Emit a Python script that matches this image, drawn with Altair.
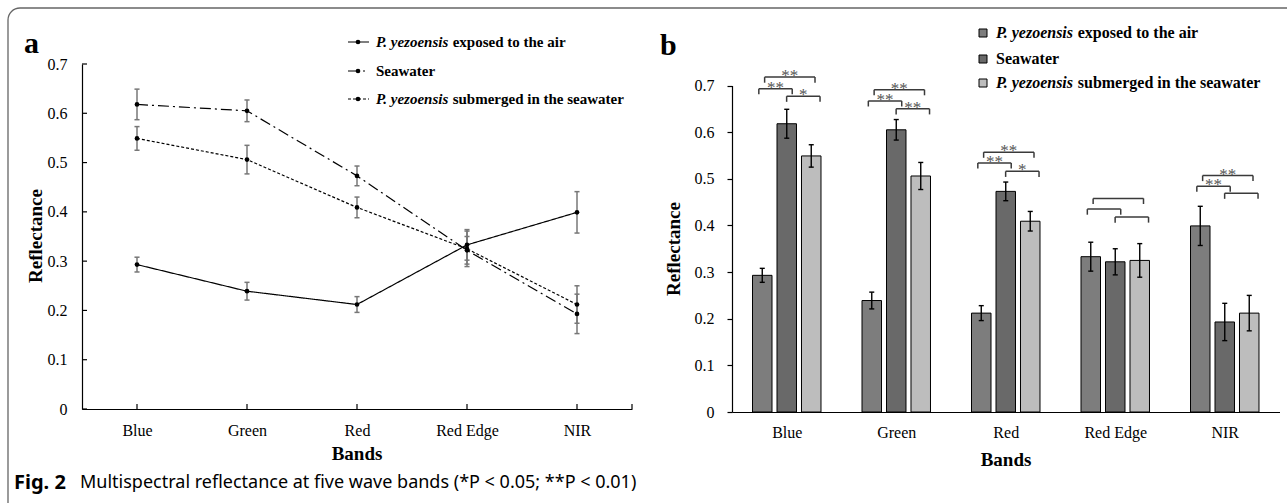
import altair as alt
import pandas as pd

# ---------------- data ----------------
bands = ["Blue", "Green", "Red", "Red Edge", "NIR"]
series = ["air", "sea", "sub"]
air = [0.293, 0.239, 0.212, 0.333, 0.399]
air_err = [0.015, 0.018, 0.016, 0.031, 0.042]
sea = [0.618, 0.605, 0.473, 0.322, 0.193]
sea_err = [0.031, 0.022, 0.020, 0.028, 0.040]
sub = [0.549, 0.506, 0.409, 0.325, 0.212]
sub_err = [0.024, 0.029, 0.021, 0.036, 0.038]
y_ticks = [0, 0.1, 0.2, 0.3, 0.4, 0.5, 0.6, 0.7]

# significance brackets (panel b): heights and labels per band
top_y = [0.718, 0.691, 0.557, 0.458, 0.507]     # air vs submerged
left_y = [0.693, 0.667, 0.534, 0.435, 0.484]    # air vs seawater
right_y = [0.677, 0.650, 0.516, 0.418, 0.469]   # seawater vs submerged
top_lab = ["**", "**", "**", "", "**"]
left_lab = ["**", "**", "**", "", "**"]
right_lab = ["*", "**", "*", "", ""]

W, H = 1287, 503
SERIF = "Liberation Serif"
SANS = "Noto Sans"

rows = []
for s, vals, errs in zip(series, [air, sea, sub], [air_err, sea_err, sub_err]):
    for i, (v, e) in enumerate(zip(vals, errs)):
        rows.append(dict(series=s, band=bands[i], pos=i + 0.5, v=v, lo=v - e, hi=v + e, zero=0.0))
df = pd.DataFrame(rows)

label_expr = "[" + ",".join("'%s'" % b for b in bands) + "][floor(datum.value)]"
ylab_expr = "datum.value == 0 ? '0' : format(datum.value, '.1f')"

layers = []

# ---------------- panel a (lines) ----------------
xa = alt.Scale(domain=[0, 5], range=[82, 632], nice=False, zero=False)
ya = alt.Scale(domain=[0, 0.7], range=[409, 64], nice=False, zero=False)
CAP_A = 0.023
dfa = df.copy()
dfa["cl"] = dfa.pos - CAP_A
dfa["cr"] = dfa.pos + CAP_A

xa_axis = alt.Axis(orient="bottom", offset=409 - H, values=[i + 0.5 for i in range(5)],
                   labelExpr=label_expr, ticks=False, tickSize=0, grid=False,
                   domainColor="black", domainWidth=1.2, labelFont=SERIF, labelFontSize=16,
                   labelColor="black", labelPadding=13, title=None, labelFlush=False)
ya_axis = alt.Axis(orient="left", offset=-82, values=y_ticks, labelExpr=ylab_expr,
                   ticks=False, tickSize=0, grid=False, domainColor="black", domainWidth=1.2,
                   labelFont=SERIF, labelFontSize=16, labelColor="black", labelPadding=15,
                   title=None)

base_a = alt.Chart(dfa)
ERR_A = "#777777"
layers.append(base_a.mark_rule(color=ERR_A, strokeWidth=1.5).encode(
    x=alt.X("pos:Q", scale=xa, axis=xa_axis),
    y=alt.Y("lo:Q", scale=ya, axis=ya_axis), y2="hi:Q"))
for f in ("hi", "lo"):
    layers.append(base_a.mark_rule(color=ERR_A, strokeWidth=1.5).encode(
        x=alt.X("cl:Q", scale=xa, axis=None), x2="cr:Q", y=alt.Y(f + ":Q", scale=ya, axis=None)))
layers.append(base_a.mark_line(color="black", strokeWidth=1.2).encode(
    x=alt.X("pos:Q", scale=xa, axis=None), y=alt.Y("v:Q", scale=ya, axis=None),
    strokeDash=alt.StrokeDash("series:N", scale=alt.Scale(domain=series, range=[[1, 0], [11, 4, 2, 4], [3, 2]]), legend=None),
    order="pos:Q"))
layers.append(base_a.mark_circle(color="black", size=22, opacity=1).encode(
    x=alt.X("pos:Q", scale=xa, axis=None), y=alt.Y("v:Q", scale=ya, axis=None)))
layers.append(alt.Chart(pd.DataFrame({"t": [0.5, 1.5, 2.5, 3.5, 4.5, 5.0]})).mark_rule(color="black", strokeWidth=1.2).encode(
    x=alt.X("t:Q", scale=xa, axis=None), y=alt.value(409), y2=alt.value(404)))
layers.append(alt.Chart(pd.DataFrame({"t": y_ticks})).mark_rule(color="black", strokeWidth=1.2).encode(
    y=alt.Y("t:Q", scale=ya, axis=None), x=alt.value(82), x2=alt.value(87)))

# ---------------- panel b (bars) ----------------
xb = alt.Scale(domain=[0, 5], range=[732, 1279.5], nice=False, zero=False)
yb = alt.Scale(domain=[0, 0.7], range=[412, 85.5], nice=False, zero=False)
OFF = {"air": -0.2237, "sea": 0.0, "sub": 0.2237}
BW = 0.178
CAP_B = 0.023
dfb = df.copy()
dfb["c"] = dfb.pos + dfb.series.map(OFF)
dfb["bx1"] = dfb.c - BW / 2
dfb["bx2"] = dfb.c + BW / 2
dfb["cl"] = dfb.c - CAP_B
dfb["cr"] = dfb.c + CAP_B
bar_colors = ["#7d7d7d", "#696969", "#bdbdbd"]

xb_axis = alt.Axis(orient="bottom", offset=412 - H, values=[i + 0.5 for i in range(5)],
                   labelExpr=label_expr, ticks=False, tickSize=0, grid=False,
                   domainColor="black", domainWidth=1.2, labelFont=SERIF, labelFontSize=16,
                   labelColor="black", labelPadding=12, title=None, labelFlush=False)
yb_axis = alt.Axis(orient="left", offset=-732, values=y_ticks, labelExpr=ylab_expr,
                   ticks=True, tickSize=5, tickColor="black", tickWidth=1.2, grid=False,
                   domainColor="black", domainWidth=1.2, labelFont=SERIF, labelFontSize=16,
                   labelColor="black", labelPadding=13, title=None)

base_b = alt.Chart(dfb)
layers.append(base_b.mark_bar(stroke="black", strokeWidth=1).encode(
    x=alt.X("bx1:Q", scale=xb, axis=xb_axis), x2="bx2:Q",
    y=alt.Y("v:Q", scale=yb, axis=yb_axis), y2="zero:Q",
    color=alt.Color("series:N", scale=alt.Scale(domain=series, range=bar_colors), legend=None)))
layers.append(base_b.mark_rule(color="black", strokeWidth=1.4).encode(
    x=alt.X("c:Q", scale=xb, axis=None), y=alt.Y("lo:Q", scale=yb, axis=None), y2="hi:Q"))
for f in ("hi", "lo"):
    layers.append(base_b.mark_rule(color="black", strokeWidth=1.4).encode(
        x=alt.X("cl:Q", scale=xb, axis=None), x2="cr:Q", y=alt.Y(f + ":Q", scale=yb, axis=None)))

BR_OFF = {"top": (-0.202, 0.258), "left": (-0.255, 0.050), "right": (-0.001, 0.304)}
LEG = 0.012
brows = []
for i in range(5):
    for kind, yy, lab in (("top", top_y, top_lab), ("left", left_y, left_lab), ("right", right_y, right_lab)):
        o1, o2 = BR_OFF[kind]
        x1 = i + 0.5 + o1
        x2 = i + 0.5 + o2
        brows.append(dict(x1=x1, x2=x2, xm=(x1 + x2) / 2, y=yy[i], yl=yy[i] - LEG, lab=lab[i]))
dfbr = pd.DataFrame(brows)
base_br = alt.Chart(dfbr)
BRC = "#3a3a3a"
layers.append(base_br.mark_rule(color=BRC, strokeWidth=1.5).encode(
    x=alt.X("x1:Q", scale=xb, axis=None), x2="x2:Q", y=alt.Y("y:Q", scale=yb, axis=None)))
for f in ("x1", "x2"):
    layers.append(base_br.mark_rule(color=BRC, strokeWidth=1.5).encode(
        x=alt.X(f + ":Q", scale=xb, axis=None), y=alt.Y("y:Q", scale=yb, axis=None), y2="yl:Q"))
layers.append(base_br.mark_text(font=SERIF, fontSize=17, color="#555555", baseline="alphabetic", dy=4).encode(
    x=alt.X("xm:Q", scale=xb, axis=None), y=alt.Y("y:Q", scale=yb, axis=None), text="lab:N"))


# ---------------- decorations ----------------
def one():
    return alt.Chart(alt.Data(values=[{}]))


def txt(s, x, y, size, font=SERIF, weight="normal", style="normal", align="left",
        baseline="middle", angle=0, color="black"):
    return one().mark_text(text=s, font=font, fontSize=size, fontWeight=weight, fontStyle=style,
                           align=align, baseline=baseline, angle=angle, color=color).encode(
        x=alt.value(x), y=alt.value(y))


deco = []
border = one().mark_rect(fillOpacity=0, stroke="#666666", strokeWidth=1.3, cornerRadius=12).encode(
    x=alt.value(8), x2=alt.value(1330), y=alt.value(8), y2=alt.value(560))

ITAL_EM = 4.86  # width of "P. yezoensis" in em (bold italic serif)


def legend_text(x, y, italic, rest, size):
    out = []
    if italic:
        out.append(txt(italic, x, y, size, weight="bold", style="italic"))
        out.append(txt(rest, x + ITAL_EM * size + 0.25 * size, y, size, weight="bold"))
    else:
        out.append(txt(rest, x, y, size, weight="bold"))
    return out


leg_labels = [("P. yezoensis", "exposed to the air"), ("", "Seawater"),
              ("P. yezoensis", "submerged in the seawater")]
dashes = [[1, 0], [11, 4, 2, 4], [3, 2]]

# panel a legend
for ry, (it, rest), dsh in zip([42, 71, 99], leg_labels, dashes):
    deco.append(one().mark_rule(color="black", strokeWidth=1.2, strokeDash=dsh).encode(
        x=alt.value(348), x2=alt.value(369), y=alt.value(ry)))
    deco.append(one().mark_circle(color="black", size=22, opacity=1).encode(x=alt.value(358), y=alt.value(ry)))
    deco += legend_text(376, ry, it, rest, 15)

# panel b legend
for ry, (it, rest), col in zip([33, 59, 83], leg_labels, bar_colors):
    deco.append(one().mark_square(fill=col, stroke="black", strokeWidth=1, size=64, opacity=1).encode(
        x=alt.value(983), y=alt.value(ry)))
    deco += legend_text(996, ry, it, rest, 16)

# panel letters
deco.append(txt("a", 24, 53, 30, weight="bold", baseline="alphabetic"))
deco.append(txt("b", 660, 55, 30, weight="bold", baseline="alphabetic"))

# axis titles
deco.append(txt("Bands", 357, 454, 19, weight="bold", align="center"))
deco.append(txt("Bands", 1006, 460, 19, weight="bold", align="center"))
deco.append(txt("Reflectance", 36, 236, 19, weight="bold", align="center", angle=270))
deco.append(txt("Reflectance", 674, 249, 19, weight="bold", align="center", angle=270))

# caption
deco.append(txt("Fig. 2", 14, 483, 20, font=SANS, weight="bold"))
deco.append(txt("Multispectral reflectance at five wave bands (*P < 0.05; **P < 0.01)", 80, 483, 18, font=SANS))

chart = alt.layer(border, *layers, *deco).resolve_scale(
    x="independent", y="independent", color="independent", strokeDash="independent"
).resolve_axis(
    x="independent", y="independent"
).properties(
    width=W, height=H, autosize=alt.AutoSizeParams(type="none"), padding=0, background="white"
).configure_view(stroke=None)

chart.save("out.html", embed_options={"renderer": "svg", "actions": False})
